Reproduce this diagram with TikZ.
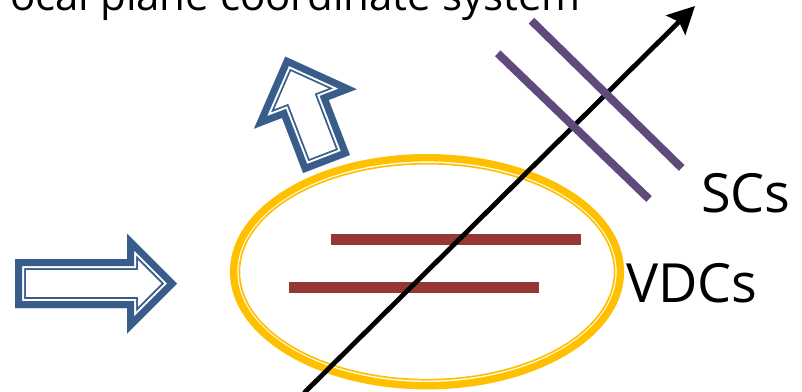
\documentclass[tikz,border=0pt]{standalone}
\usepackage{fontspec}
\setmainfont{Open Sans}
\usetikzlibrary{arrows.meta}

\definecolor{arrowblue}{HTML}{385D8A}
\definecolor{ringgold}{HTML}{FFC000}
\definecolor{vdcred}{HTML}{953735}
\definecolor{scpurple}{HTML}{604A7B}

\begin{document}
\begin{tikzpicture}[
    x=1pt, y=-1pt,
    >={Stealth[length=27pt, width=27pt, inset=4.5pt]},
    title text/.style={font=\fontsize{42}{50}\selectfont, inner sep=0pt},
    label text/.style={font=\fontsize{54}{64}\selectfont, inner sep=0pt},
    vdc bar/.style={draw=vdcred, line width=10.5pt},
    sc bar/.style={draw=scpurple, line width=8pt},
    pics/hollow arrow/.style n args={4}{code={
        \def\arrowshape{(0,-#3) -- (#1,-#3) -- (#1,-#4) -- (#1+#2,0) -- (#1,#4) -- (#1,#3) -- (0,#3) -- cycle}
        \clip \arrowshape;
        \draw[arrowblue, line width=21.6pt, line join=miter] \arrowshape;
        \draw[white, line width=18pt, line join=miter] \arrowshape;
        \draw[arrowblue, line width=14pt, line join=miter] \arrowshape;
    }}
]
    \useasboundingbox (0,0) rectangle (802,391);

    \node[title text, anchor=base east] (title) at (581,10) {Focal plane coordinate system};

    % ring around the VDCs
    \coordinate (ring) at (427,271.7);
    \draw[ringgold, line width=7.4pt] (ring) ellipse [x radius=193.4pt, y radius=114pt];
    \draw[ringgold, line width=1.7pt] (ring) ellipse [x radius=187.6pt, y radius=108pt];

    \coordinate (vdc1 a) at (331,239.7);
    \coordinate (vdc1 b) at (581,239.7);
    \coordinate (vdc2 a) at (289,287.5);
    \coordinate (vdc2 b) at (539,287.5);
    \draw[vdc bar] (vdc1 a) -- (vdc1 b);
    \draw[vdc bar] (vdc2 a) -- (vdc2 b);

    \coordinate (axis base) at (304,393);
    \coordinate (axis tip) at (695,6);
    \draw[->, line width=4.8pt] (axis base) -- (axis tip);

    \coordinate (sc1 a) at (531.5,20.7);
    \coordinate (sc1 b) at (681.7,168);
    \coordinate (sc2 a) at (497.7,53.3);
    \coordinate (sc2 b) at (649,199);
    \draw[sc bar] (sc1 a) -- (sc1 b);
    \draw[sc bar] (sc2 a) -- (sc2 b);

    \node[label text, anchor=base west] (sc label) at (701,212) {SCs};
    \node[label text, anchor=base west] (vdc label) at (626,302) {VDCs};

    % block arrows
    \pic (in arrow) at (15,283.5) {hollow arrow={112}{50}{24.5}{50}};
    \pic[rotate=111] (out arrow) at (326.5,164) {hollow arrow={59}{56}{25}{55}};
\end{tikzpicture}
\end{document}
